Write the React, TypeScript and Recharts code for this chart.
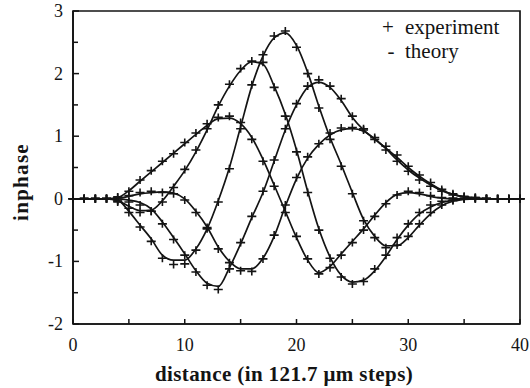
import React from "react";
import { LineChart, Line, XAxis, YAxis, ReferenceArea, Customized } from "recharts";

// step index along the scan (121.7 um steps)
const distance = [
    0, 1, 2, 3, 4, 5, 6, 7, 8, 9, 10, 11, 12, 13, 14, 15, 16, 17, 18, 19, 20,
    21, 22, 23, 24, 25, 26, 27, 28, 29, 30, 31, 32, 33, 34, 35, 36, 37, 38, 39, 40,
];

// theory curves (solid lines)
const theoryA = [
    0, 0, 0, 0, 0.02, 0.13, 0.28, 0.43, 0.58, 0.73, 0.88, 1.03, 1.17, 1.28, 1.29, 1.2, 0.98, 0.63, 0.22, -0.2, -0.62,
    -0.98, -1.18, -1.08, -0.88, -0.68, -0.48, -0.26, -0.06, 0.07, 0.1, 0.08, 0.04, 0.01, 0, 0, 0, 0, 0, 0, 0,
];
const theoryB = [
    0, 0, 0, 0, -0.03, -0.12, -0.19, -0.18, -0.03, 0.2, 0.45, 0.75, 1.1, 1.48, 1.8, 2.05, 2.19, 2.15, 1.8, 1.35, 0.78,
    0.12, -0.48, -0.93, -1.22, -1.33, -1.3, -1.15, -0.92, -0.65, -0.42, -0.24, -0.13, -0.06, -0.02, 0, 0, 0, 0, 0, 0,
];
const theoryC = [
    0, 0, 0, 0, -0.02, -0.2, -0.42, -0.64, -0.9, -0.98, -0.98, -0.8, -0.48, -0.03, 0.5, 1.15, 1.8, 2.28, 2.57, 2.65, 2.45,
    2.02, 1.48, 0.98, 0.55, 0.1, -0.33, -0.6, -0.75, -0.75, -0.62, -0.42, -0.24, -0.11, -0.04, -0.01, 0, 0, 0, 0, 0,
];
const theoryD = [
    0, 0, 0, 0, 0, -0.02, -0.06, -0.16, -0.37, -0.62, -0.88, -1.15, -1.35, -1.4, -1.1, -0.72, -0.3, 0.1, 0.6, 1.1, 1.5,
    1.78, 1.86, 1.78, 1.57, 1.3, 1.1, 0.95, 0.81, 0.66, 0.5, 0.36, 0.24, 0.14, 0.07, 0.03, 0.01, 0, 0, 0, 0,
];
const theoryE = [
    0, 0, 0, 0, 0.01, 0.04, 0.08, 0.1, 0.11, 0.09, 0, -0.2, -0.45, -0.77, -1.0, -1.12, -1.12, -0.95, -0.6, -0.12, 0.32,
    0.65, 0.87, 1.02, 1.1, 1.12, 1.08, 0.96, 0.8, 0.62, 0.46, 0.33, 0.22, 0.13, 0.07, 0.03, 0.01, 0, 0, 0, 0,
];

// measured points (+ markers)
const expA = [
    0, 0.01, 0, 0, 0.03, 0.12, 0.3, 0.45, 0.6, 0.72, 0.9, 1.05, 1.2, 1.3, 1.32, 1.22, 0.95, 0.6, 0.2, -0.22, -0.6,
    -0.96, -1.2, -1.1, -0.9, -0.7, -0.5, -0.28, -0.08, 0.06, 0.12, 0.1, 0.05, 0.02, 0.01, 0, 0, 0, 0, 0, 0,
];
const expB = [
    0, 0, 0.01, 0, -0.05, -0.15, -0.22, -0.2, -0.05, 0.18, 0.47, 0.78, 1.12, 1.5, 1.83, 2.08, 2.2, 2.18, 1.78, 1.32, 0.75,
    0.1, -0.5, -0.95, -1.25, -1.36, -1.32, -1.12, -0.9, -0.62, -0.4, -0.22, -0.1, -0.04, -0.02, 0, 0.01, 0, 0, 0, 0,
];
const expC = [
    0, 0, 0, 0.01, -0.04, -0.22, -0.45, -0.68, -0.95, -1.05, -1.04, -0.82, -0.46, -0.05, 0.48, 1.12, 1.82, 2.3, 2.6, 2.68, 2.42,
    2.0, 1.45, 0.95, 0.52, 0.08, -0.35, -0.62, -0.78, -0.74, -0.6, -0.4, -0.22, -0.1, -0.03, 0, 0, 0, 0, 0, 0,
];
const expD = [
    0, 0, 0, 0, -0.02, -0.05, -0.1, -0.2, -0.4, -0.65, -0.9, -1.17, -1.38, -1.45, -1.12, -0.7, -0.28, 0.12, 0.62, 1.12, 1.52,
    1.8, 1.9, 1.8, 1.6, 1.32, 1.12, 0.98, 0.84, 0.7, 0.52, 0.38, 0.26, 0.15, 0.08, 0.04, 0.02, 0, 0, 0, 0,
];
const expE = [
    0, 0, 0, 0, 0.02, 0.05, 0.1, 0.12, 0.1, 0.08, -0.02, -0.22, -0.48, -0.8, -1.02, -1.15, -1.16, -0.96, -0.58, -0.1, 0.34,
    0.67, 0.88, 1.05, 1.13, 1.14, 1.1, 0.95, 0.78, 0.6, 0.44, 0.3, 0.2, 0.12, 0.06, 0.03, 0.02, 0.01, 0, 0, 0,
];

const xTicks = [0, 5, 10, 15, 20, 25, 30, 35, 40];
const yTicks = [-2, -1.5, -1, -0.5, 0, 0.5, 1, 1.5, 2, 2.5, 3];

const FONT = "'Liberation Serif', 'DejaVu Serif', serif";
const INK = "#141414";

const rows = distance.map((x, i) => ({
    x,
    a: theoryA[i],
    b: theoryB[i],
    c: theoryC[i],
    d: theoryD[i],
    e: theoryE[i],
    ea: expA[i],
    eb: expB[i],
    ec: expC[i],
    ed: expD[i],
    ee: expE[i],
}));

// "+" marker for the experiment points
const PlusDot = (props: any) => {
    const { cx, cy, index } = props;
    if (cx == null || cy == null) return <g key={index} />;
    return (
        <path
            key={index}
            d={`M${cx - 4.5},${cy}H${cx + 4.5}M${cx},${cy - 4}V${cy + 4}`}
            stroke={INK}
            strokeWidth={1.6}
            fill="none"
        />
    );
};

// inward ticks, labels only on the whole numbers
const XTick = (props: any) => {
    const { x, y, payload } = props;
    const v = payload.value;
    return (
        <g>
            <line x1={x} y1={y} x2={x} y2={y - 5} stroke={INK} strokeWidth={1.5} />
            {v % 10 === 0 && (
                <text x={x} y={y + 27} textAnchor="middle" style={{ fontFamily: FONT, fontSize: 18 }} fill={INK}>
                    {v}
                </text>
            )}
        </g>
    );
};

const YTick = (props: any) => {
    const { x, y, payload } = props;
    const v = payload.value;
    const whole = Number.isInteger(v);
    return (
        <g>
            <line x1={x} y1={y} x2={x + (whole ? 6 : 5)} y2={y} stroke={INK} strokeWidth={1.5} />
            {whole && (
                <text x={x - 10} y={y + 6} textAnchor="end" style={{ fontFamily: FONT, fontSize: 18 }} fill={INK}>
                    {v}
                </text>
            )}
        </g>
    );
};

const Decorations = () => (
    <g style={{ fontFamily: FONT }} fill={INK}>
        <text x={388} y={34} textAnchor="middle" style={{ fontFamily: FONT, fontSize: 21 }}>+</text>
        <text x={405} y={34} style={{ fontFamily: FONT, fontSize: 21 }}>experiment</text>
        <text x={391} y={58} textAnchor="middle" style={{ fontFamily: FONT, fontSize: 21 }}>-</text>
        <text x={405} y={58} style={{ fontFamily: FONT, fontSize: 21 }}>theory</text>
        <text
            x={284}
            y={381}
            textAnchor="middle"
            style={{ fontFamily: FONT, fontSize: 21, fontWeight: "bold", letterSpacing: 0.4 }}
        >
            distance (in 121.7 μm steps)
        </text>
        <text
            x={28}
            y={182}
            textAnchor="middle"
            style={{ fontFamily: FONT, fontSize: 21, fontWeight: "bold", letterSpacing: 1.3 }}
            transform="rotate(-90 28 182)"
        >
            inphase
        </text>
    </g>
);

const theoryKeys = ["a", "b", "c", "d", "e"];
const expKeys = ["ea", "eb", "ec", "ed", "ee"];

export default function App() {
    return (
        <div style={{ position: "absolute", left: 0, top: 0, background: "#fff" }}>
            <LineChart width={530} height={388} data={rows} margin={{ top: 11, right: 10, bottom: 0, left: 0 }}>
                <XAxis
                    type="number"
                    dataKey="x"
                    domain={[0, 40]}
                    ticks={xTicks}
                    interval={0}
                    tick={<XTick />}
                    tickLine={false}
                    tickSize={0}
                    tickMargin={0}
                    axisLine={{ stroke: INK, strokeWidth: 1.7 }}
                    height={64}
                />
                <YAxis
                    type="number"
                    domain={[-2, 3]}
                    ticks={yTicks}
                    interval={0}
                    tick={<YTick />}
                    tickLine={false}
                    tickSize={0}
                    tickMargin={0}
                    axisLine={{ stroke: INK, strokeWidth: 1.7 }}
                    width={73}
                />
                <ReferenceArea x1={0} x2={40} y1={-2} y2={3} fill="none" stroke={INK} strokeWidth={1.7} />
                {theoryKeys.map((k) => (
                    <Line
                        key={k}
                        type="monotone"
                        dataKey={k}
                        stroke={INK}
                        strokeWidth={1.7}
                        dot={false}
                        activeDot={false}
                        isAnimationActive={false}
                    />
                ))}
                {expKeys.map((k) => (
                    <Line
                        key={k}
                        type="linear"
                        dataKey={k}
                        stroke="none"
                        dot={PlusDot}
                        activeDot={false}
                        isAnimationActive={false}
                    />
                ))}
                <Customized component={Decorations} />
            </LineChart>
        </div>
    );
}
